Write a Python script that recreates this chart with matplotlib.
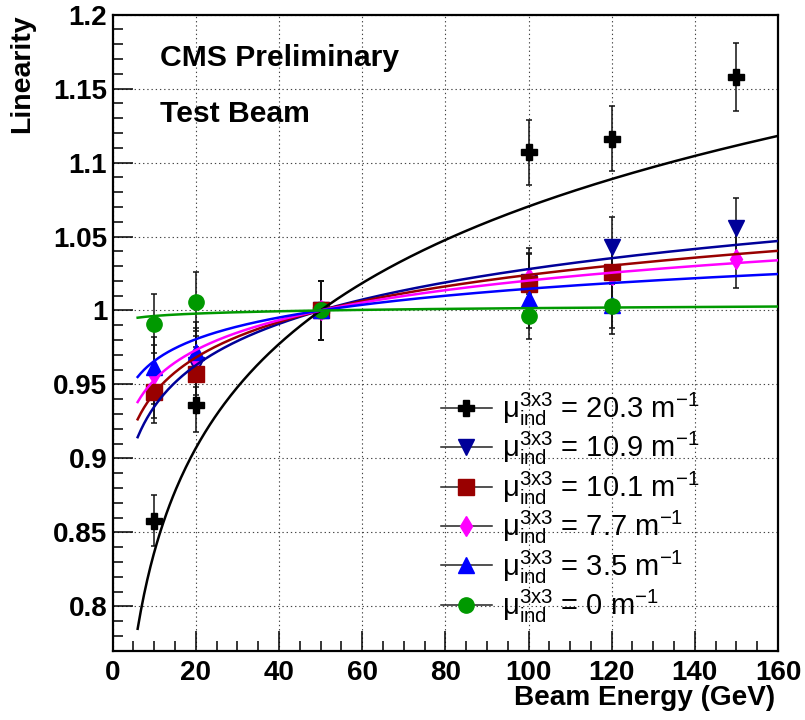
import numpy as np
import matplotlib
matplotlib.use("Agg")
import matplotlib.pyplot as plt
from matplotlib.lines import Line2D
from matplotlib.ticker import MultipleLocator, FuncFormatter

plt.rcParams['font.family'] = ['Liberation Sans', 'DejaVu Sans']
plt.rcParams['mathtext.fontset'] = 'custom'
plt.rcParams['mathtext.rm'] = 'Liberation Sans'
plt.rcParams['mathtext.it'] = 'Liberation Sans:italic'
plt.rcParams['mathtext.bf'] = 'Liberation Sans:bold'

# Test-beam linearity per induced attenuation coefficient (normalised at 50 GeV)
mu_values = ["20.3", "10.9", "10.1", "7.7", "3.5", "0"]

e_203 = [10, 20, 50, 100, 120, 150]
lin_203 = [0.858, 0.936, 1.000, 1.107, 1.116, 1.158]
err_203 = [0.017, 0.018, 0.020, 0.022, 0.022, 0.023]

e_109 = [10, 20, 50, 100, 120, 150]
lin_109 = [0.944, 0.963, 1.000, 1.019, 1.043, 1.056]
err_109 = [0.020, 0.020, 0.020, 0.020, 0.020, 0.020]

e_101 = [10, 20, 50, 100, 120]
lin_101 = [0.945, 0.957, 1.000, 1.018, 1.026]
err_101 = [0.018, 0.018, 0.020, 0.020, 0.020]

e_77 = [10, 20, 50, 100, 120, 150]
lin_77 = [0.957, 0.968, 1.000, 1.022, 1.024, 1.035]
err_77 = [0.020, 0.020, 0.020, 0.020, 0.020, 0.020]

e_35 = [10, 20, 50, 100, 120]
lin_35 = [0.962, 0.972, 1.000, 1.008, 1.004]
err_35 = [0.020, 0.020, 0.020, 0.020, 0.020]

e_0 = [10, 20, 50, 100, 120]
lin_0 = [0.991, 1.006, 1.000, 0.996, 1.003]
err_0 = [0.020, 0.020, 0.020, 0.015, 0.015]

# logarithmic fit slopes: L(E) = 1 + k * ln(E / 50 GeV)
fit_slope = [0.1015, 0.0404, 0.0347, 0.0292, 0.0212, 0.0023]
fit_range = [6, 160]

series = [
    (e_203, lin_203, err_203, 'P', '#000000', 12),
    (e_109, lin_109, err_109, 'v', '#000099', 12),
    (e_77, lin_77, err_77, 'd', '#ff00ff', 10),
    (e_101, lin_101, err_101, 's', '#990000', 11),
    (e_35, lin_35, err_35, '^', '#0000ff', 12),
    (e_0, lin_0, err_0, 'o', '#009900', 11),
]
# legend order follows mu_values
legend_idx = [0, 1, 3, 2, 4, 5]
curve_colors = ['#000000', '#000099', '#990000', '#ff00ff', '#0000ff', '#009900']

fig = plt.figure(figsize=(8.05, 7.2), dpi=100)
ax = fig.add_axes([0.140, 0.0963, 0.8265, 0.8833])

ax.set_xlim(0, 160)
ax.set_ylim(0.77, 1.2)

ax.grid(True, which='major', color='#444444', lw=0.8, ls=(0, (1.2, 2.6)), zorder=0)

for (x, y, e, m, c, ms) in series:
    ax.errorbar(x, y, yerr=e, fmt=m, color=c, ms=ms, mec=c, ecolor='#111111',
                elinewidth=1.1, capsize=2, capthick=1.1, zorder=3)

E = np.linspace(fit_range[0], fit_range[1], 400)
for k, c in zip(fit_slope, curve_colors):
    ax.plot(E, 1 + k * np.log(E / 50.0), color=c, lw=1.8, zorder=4)

# axes styling
ax.xaxis.set_major_locator(MultipleLocator(20))
ax.xaxis.set_minor_locator(MultipleLocator(5))
ax.yaxis.set_major_locator(MultipleLocator(0.05))
ax.yaxis.set_minor_locator(MultipleLocator(0.01))
ax.yaxis.set_major_formatter(FuncFormatter(lambda v, p: f"{v:.2f}".rstrip('0').rstrip('.')))
ax.tick_params(which='major', direction='in', length=14.4, width=1.1,
               labelsize=20, top=False, right=False)
ax.tick_params(axis='y', which='major', pad=4)
ax.tick_params(axis='x', which='major', pad=7)
ax.tick_params(which='minor', direction='in', length=7.2, width=1.1, top=False, right=False)
for lab in ax.get_xticklabels() + ax.get_yticklabels():
    lab.set_fontweight('bold')
for s in ax.spines.values():
    s.set_linewidth(1.6)

ax.set_xlabel('Beam Energy (GeV)', loc='right', fontsize=20.2, fontweight='bold')
ax.xaxis.set_label_coords(0.996, -0.054)
ax.set_ylabel('Linearity', loc='top', fontsize=20.5, fontweight='bold')
ax.yaxis.set_label_coords(-0.117, 1.0)

fig.text(0.1988, 0.9083, 'CMS Preliminary', fontsize=21.7, fontweight='bold', va='baseline')
fig.text(0.1988, 0.831, 'Test Beam', fontsize=21.7, fontweight='bold', va='baseline')

handles = []
labels = []
for i, mu in enumerate(mu_values):
    (_, _, _, m, c, ms) = series[legend_idx[i]]
    handles.append(Line2D([0], [0], color='#222222', lw=1.1, marker=m, ms=ms, mfc=c, mec=c))
    labels.append(r'$\mathrm{μ}_{\mathrm{ind}}^{\mathrm{3x3}}$' + f' = {mu} m' + r'$^{\mathrm{-1}}$')

leg = ax.legend(handles, labels, loc='upper left', bbox_to_anchor=(0.493, 0.4085),
                frameon=False, fontsize=21, handlelength=1.75, handletextpad=0.35,
                labelspacing=0.075, borderaxespad=0, borderpad=0)

fig.savefig('out.png', dpi=100)
